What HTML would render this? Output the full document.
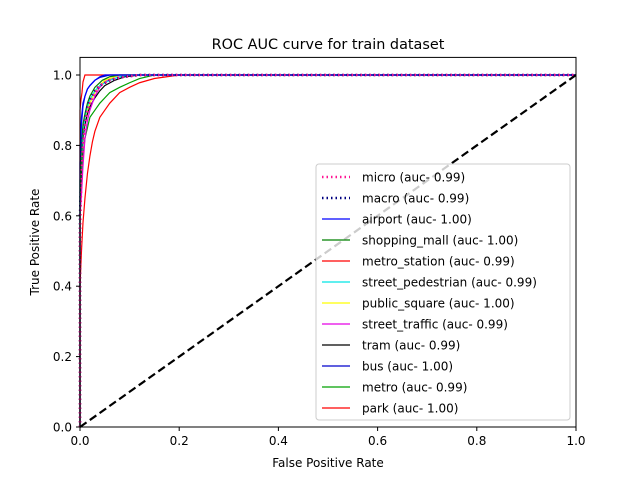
<!DOCTYPE html>
<html><head><meta charset="utf-8"><style>
body{margin:0;background:#fff}
svg{font-family:"DejaVu Sans","Liberation Sans",sans-serif}
</style></head><body>
<svg id="chart" width="640" height="480">
<rect width="640" height="480" fill="#fff"/>
<text x="328" y="49" text-anchor="middle" font-size="14.4">ROC AUC curve for train dataset</text>
<g id="plot"></g>
<rect x="80" y="57.4" width="496" height="369.6" fill="none" stroke="#000" stroke-width="1"/>
<g id="ticks" font-size="12"></g>
<text x="328" y="467" text-anchor="middle" font-size="12">False Positive Rate</text>
<text transform="translate(39,242) rotate(-90)" text-anchor="middle" font-size="12">True Positive Rate</text>
<g id="legend" font-size="12"></g>
</svg>
<script>
const xTicks=[0,0.2,0.4,0.6,0.8,1.0];
const yTicks=[0,0.2,0.4,0.6,0.8,1.0];
const seriesNames=["micro","macro","airport","shopping_mall","metro_station","street_pedestrian","public_square","street_traffic","tram","bus","metro","park"];
const seriesAuc=["0.99","0.99","1.00","1.00","0.99","0.99","1.00","0.99","0.99","1.00","0.99","1.00"];
const seriesColors=["#ff1493","#000080","#0000ff","#008000","#ff0000","#00e5e5","#ffff00","#e500e5","#000000","#0000cc","#00a000","#ff0000"];
const micro=[[0,0],[0,0.55],[0.003,0.72],[0.006,0.8],[0.01,0.86],[0.015,0.9],[0.02,0.92],[0.03,0.95],[0.04,0.97],[0.06,0.985],[0.08,0.993],[0.12,1],[1,1]];
const macro=[[0,0],[0,0.6],[0.003,0.75],[0.006,0.82],[0.01,0.87],[0.015,0.91],[0.02,0.93],[0.03,0.955],[0.04,0.97],[0.06,0.985],[0.08,0.993],[0.12,1],[1,1]];
const airport=[[0,0],[0,0.75],[0.003,0.86],[0.006,0.91],[0.01,0.94],[0.015,0.96],[0.02,0.97],[0.03,0.985],[0.04,0.995],[0.05,1],[1,1]];
const shoppingMall=[[0,0],[0,0.7],[0.003,0.8],[0.006,0.86],[0.01,0.89],[0.015,0.92],[0.02,0.94],[0.03,0.965],[0.045,0.985],[0.06,0.995],[0.08,1],[1,1]];
const metroStation=[[0,0],[0,0.4],[0.003,0.5],[0.006,0.58],[0.01,0.65],[0.015,0.72],[0.02,0.77],[0.025,0.81],[0.03,0.84],[0.04,0.88],[0.05,0.9],[0.06,0.92],[0.08,0.95],[0.1,0.965],[0.12,0.978],[0.15,0.99],[0.2,1],[1,1]];
const streetPedestrian=[[0,0],[0,0.7],[0.003,0.78],[0.006,0.84],[0.01,0.88],[0.015,0.91],[0.02,0.93],[0.03,0.955],[0.04,0.97],[0.06,0.985],[0.08,0.995],[0.1,1],[1,1]];
const publicSquare=[[0,0],[0,0.7],[0.003,0.79],[0.006,0.84],[0.01,0.88],[0.015,0.9],[0.02,0.92],[0.03,0.95],[0.04,0.97],[0.05,0.985],[0.07,0.995],[0.08,1],[1,1]];
const streetTraffic=[[0,0],[0,0.6],[0.003,0.66],[0.006,0.74],[0.01,0.82],[0.015,0.87],[0.02,0.9],[0.03,0.94],[0.04,0.965],[0.05,0.98],[0.07,0.995],[0.08,1],[1,1]];
const tram=[[0,0],[0,0.65],[0.003,0.76],[0.006,0.82],[0.01,0.86],[0.015,0.89],[0.02,0.91],[0.03,0.935],[0.04,0.955],[0.05,0.97],[0.07,0.985],[0.09,0.995],[0.12,1],[1,1]];
const bus=[[0,0],[0,0.8],[0.003,0.88],[0.006,0.92],[0.01,0.94],[0.015,0.96],[0.02,0.97],[0.03,0.985],[0.04,0.993],[0.06,1],[1,1]];
const metro=[[0,0],[0,0.6],[0.003,0.7],[0.006,0.77],[0.01,0.82],[0.015,0.85],[0.02,0.88],[0.03,0.9],[0.04,0.92],[0.05,0.935],[0.06,0.95],[0.08,0.965],[0.1,0.978],[0.12,0.99],[0.15,1],[1,1]];
const park=[[0,0],[0,0.9],[0.002,0.93],[0.004,0.95],[0.006,0.98],[0.01,1],[1,1]];
const diagonal=[[0,0],[1,1]];
const allSeries=[micro,macro,airport,shoppingMall,metroStation,streetPedestrian,publicSquare,streetTraffic,tram,bus,metro,park];

const NS="http://www.w3.org/2000/svg";
const X=v=>80+v*496, Y=v=>427-v*352;
function mk(t,a,p){const e=document.createElementNS(NS,t);for(const k in a)e.setAttribute(k,a[k]);p.appendChild(e);return e;}
const plot=document.getElementById('plot');
function linePath(pts){return pts.map((p,i)=>(i?'L':'M')+X(p[0])+','+Y(p[1])).join(' ');}
for(let i=allSeries.length-1;i>=0;i--){
  const dotted=i<2;
  const p=mk('path',{d:linePath(allSeries[i]),fill:'none',stroke:seriesColors[i],'stroke-width':dotted?2.5:1.2,'stroke-dasharray':dotted?'1.5,3':'none'},plot);
  
  
}
const dg=mk('line',{x1:X(diagonal[0][0]),y1:Y(diagonal[0][1]),x2:X(diagonal[1][0]),y2:Y(diagonal[1][1]),stroke:'#000','stroke-width':2.2,'stroke-dasharray':'8,4'},plot);


const tg=document.getElementById('ticks');
xTicks.forEach(v=>{mk('line',{x1:X(v),y1:427,x2:X(v),y2:431,stroke:'#000'},tg);
  const t=mk('text',{x:X(v),y:445,'text-anchor':'middle'},tg);t.textContent=v.toFixed(1);
  
  });
yTicks.forEach(v=>{mk('line',{x1:76,y1:Y(v),x2:80,y2:Y(v),stroke:'#000'},tg);
  const t=mk('text',{x:72,y:Y(v)+4.5,'text-anchor':'end'},tg);t.textContent=v.toFixed(1);
  
  });
const lg=document.getElementById('legend');
const box=mk('rect',{x:316,y:164,width:254,height:256,rx:3,fill:'#fff','fill-opacity':0.8,stroke:'#ccc'},lg);


seriesNames.forEach((n,i)=>{const y=177+i*21;const dotted=i<2;
  mk('line',{x1:322,y1:y,x2:350,y2:y,stroke:seriesColors[i],'stroke-width':dotted?2.5:1.2,'stroke-dasharray':dotted?'1.5,3':'none'},lg);
  const t=mk('text',{x:362,y:y+4.5},lg);t.textContent=n+' (auc- '+seriesAuc[i]+')';
  
  });
</script>
</body></html>
